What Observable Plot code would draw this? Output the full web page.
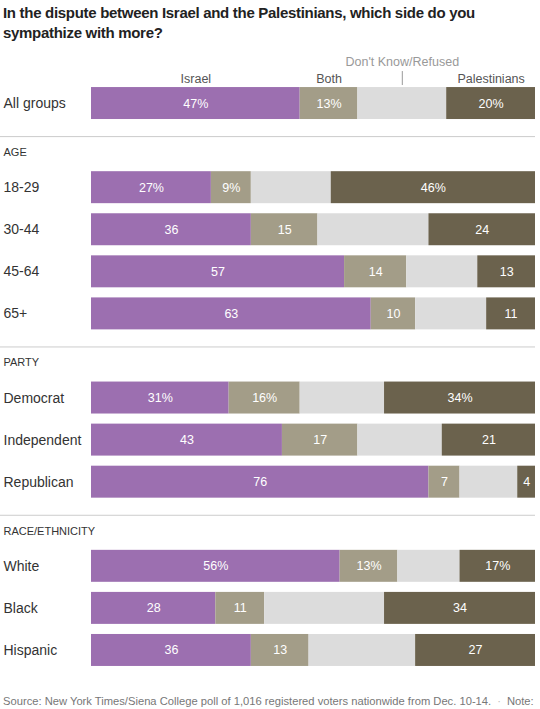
<!DOCTYPE html>
<html>
<head>
<meta charset="utf-8">
<script src="https://cdn.jsdelivr.net/npm/d3@7"></script>
<script src="https://cdn.jsdelivr.net/npm/@observablehq/plot@0.6"></script>
<style>
  body { margin: 0; background: #fff; font-family: "Liberation Sans", Arial, sans-serif; }
  #wrap { width: 540px; height: 709px; position: relative; overflow: hidden; }
  #title { height: 45px; box-sizing: border-box; padding: 3px 0 0 3px; font-weight: bold; font-size: 15px; letter-spacing: -0.3px; line-height: 20px; color: #222; white-space: nowrap; }
  #footer { padding: 3px 0 0 3px; font-size: 11.2px; line-height: 16px; color: #777; white-space: nowrap; }
  #footer .dot { color: #bbb; margin: 0 6px; }
</style>
</head>
<body>
<div id="wrap">
  <div id="title">In the dispute between Israel and the Palestinians, which side do you<br>sympathize with more?</div>
  <div id="chart"></div>
  <div id="footer">Source: New York Times/Siena College poll of 1,016 registered voters nationwide from Dec. 10-14.<span class="dot">·</span>Note:</div>
</div>
<script>
const groups = ["All groups","18-29","30-44","45-64","65+","Democrat","Independent","Republican","White","Black","Hispanic"];
const israel = [47,27,36,57,63,31,43,76,56,28,36];
const both = [13,9,15,14,10,16,17,7,13,11,13];
const dontKnow = [20,18,25,16,16,19,19,13,14,27,24];
const palestinians = [20,46,24,13,11,34,21,4,17,34,27];
const answers = ["Israel","Both","Don't Know/Refused","Palestinians"];
const colors = ["#9c6fb0","#a39d88","#dcdcdc","#6b624d"];
const sectionHeaders = ["AGE","PARTY","RACE/ETHNICITY"];
const rowOrder = ["All groups","AGE","18-29","30-44","45-64","65+","PARTY","Democrat","Independent","Republican","RACE/ETHNICITY","White","Black","Hispanic"];
const percentRows = ["All groups","18-29","Democrat","White"];

const series = [israel, both, dontKnow, palestinians];
const tidy = [];
groups.forEach((g, i) => {
  let acc = 0;
  answers.forEach((a, j) => {
    const v = series[j][i];
    tidy.push({group: g, answer: a, value: v, x1: acc, x2: acc + v,
      label: a === "Don't Know/Refused" ? "" : (percentRows.includes(g) ? v + "%" : String(v))});
    acc += v;
  });
});
const mid = d => (d.x1 + d.x2) / 2;
const topRow = tidy.filter(d => d.group === "All groups");
const dkTop = topRow.filter(d => d.answer === "Don't Know/Refused");

const chart = Plot.plot({
  width: 540,
  height: 645,
  marginLeft: 0, marginRight: 5, marginTop: 0, marginBottom: 0,
  style: {fontFamily: '"Liberation Sans", Arial, sans-serif', background: "#fff"},
  x: {domain: [0, 100], range: [91, 535], axis: null},
  y: {domain: rowOrder, range: [37, 626], paddingInner: 0.24, paddingOuter: 0.12, axis: null, round: false},
  color: {domain: answers, range: colors},
  marks: [
    Plot.ruleY(sectionHeaders, {y: d => d, dy: -9, stroke: "#ccc", strokeWidth: 1}),
    Plot.text(sectionHeaders, {y: d => d, text: d => d, frameAnchor: "left", textAnchor: "start", dx: 3, dy: 7, fontSize: 11, fill: "#333"}),
    Plot.text(groups, {y: d => d, text: d => d, frameAnchor: "left", textAnchor: "start", dx: 3, fontSize: 14, fill: "#333", letterSpacing: "-0.2px"}),
    Plot.barX(tidy, {y: "group", x1: "x1", x2: "x2", fill: "answer"}),
    Plot.text(tidy, {y: "group", x: mid, text: "label", fill: "#fff", fontSize: 12.5}),
    Plot.text(topRow, {y: "group", x: mid, text: d => d.answer === "Don't Know/Refused" ? "" : d.answer, dy: -25, fill: "#555", fontSize: 12.5}),
    Plot.text(dkTop, {y: "group", x: mid, text: "answer", dy: -42, fill: "#999", fontSize: 12.5}),
    Plot.tickX(dkTop, {y: "group", x: mid, dy: -16, insetBottom: 18, stroke: "#999", strokeWidth: 1})
  ]
});
document.getElementById("chart").appendChild(chart);
</script>
</body>
</html>
